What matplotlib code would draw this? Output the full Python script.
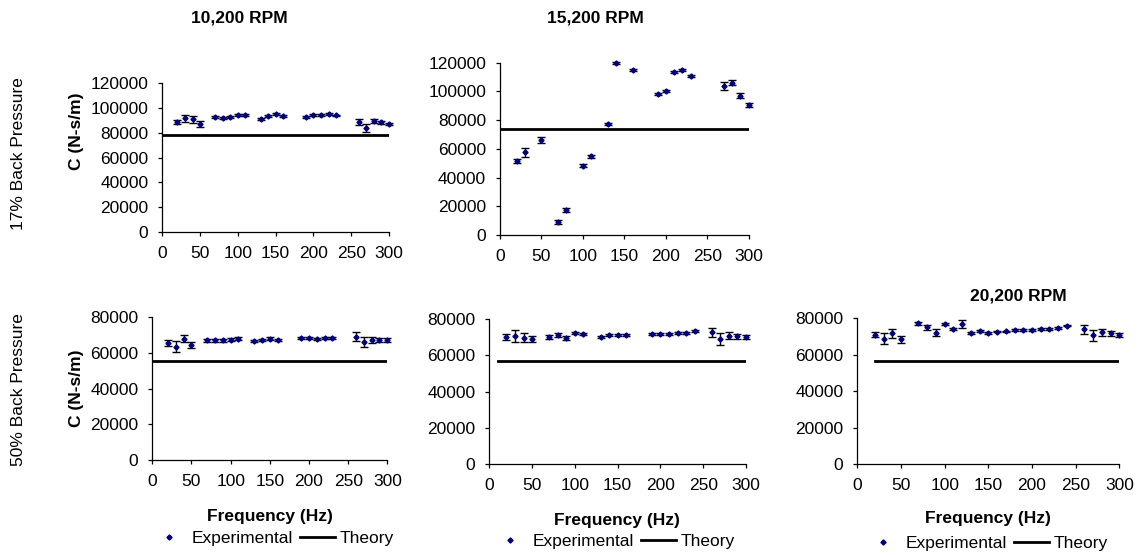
import matplotlib
matplotlib.use("Agg")
import matplotlib.pyplot as plt

plt.rcParams['font.family'] = ['Liberation Sans', 'DejaVu Sans']
FS = 12.5

# ---- data ----
freq_a = [20, 30, 40, 50, 70, 80, 90, 100, 110, 130, 140, 150, 160,
          190, 200, 210, 220, 230, 260, 270, 280, 290, 300]
c_1017 = [88900, 91600, 90800, 87000, 92700, 91600, 92700, 94300, 94300,
          91400, 93500, 95400, 93800, 93000, 94300, 94300, 95100, 94000,
          88400, 84000, 89700, 88600, 87000]
e_1017 = [1500, 3000, 2500, 2200, 800, 800, 800, 800, 800, 700, 700, 700, 700,
          700, 700, 700, 700, 700, 2400, 3000, 1700, 1300, 900]
th_1017 = 78200

freq_b = [20, 30, 50, 70, 80, 100, 110, 130, 140, 160, 190, 200, 210, 220,
          230, 270, 280, 290, 300]
c_1517 = [51320, 57590, 65950, 8840, 17410, 48270, 54780, 77520, 119780,
          114910, 97970, 100060, 113720, 114910, 110530, 103540, 106080,
          97030, 90530]
e_1517 = [1400, 3000, 2100, 1400, 1400, 1000, 1000, 800, 700, 700, 700, 700,
          800, 800, 800, 2900, 1900, 1600, 1200]
th_1517 = 74000

c_1050 = [65760, 63520, 68000, 64470, 67100, 67100, 67100, 67440, 68000,
          66880, 67270, 68000, 67270, 68220, 68220, 68000, 68220, 68220,
          69120, 66150, 67270, 67440, 67270]
e_1050 = [1600, 3000, 2000, 1700, 1000, 1000, 1000, 900, 700, 600, 600, 700,
          600, 600, 600, 600, 600, 600, 2400, 3000, 1500, 1200, 1000]
th_1050 = 55500

freq_c = [20, 30, 40, 50, 70, 80, 90, 100, 110, 130, 140, 150, 160,
          190, 200, 210, 220, 230, 240, 260, 270, 280, 290, 300]
c_1550 = [70230, 70780, 69840, 69120, 70230, 71170, 69680, 72610, 71720,
          70230, 71170, 71500, 71170, 72060, 72060, 72060, 72440, 72250,
          73550, 72830, 69120, 70950, 70620, 70060]
e_1550 = [1500, 3100, 2500, 1900, 1000, 1000, 1000, 600, 500, 500, 500, 500,
          500, 500, 500, 500, 500, 500, 300, 2400, 3100, 1800, 1300, 1000]
th_1550 = 57000

freq_d = [20, 30, 40, 50, 70, 80, 90, 100, 110, 120, 130, 140, 150, 160,
          170, 180, 190, 200, 210, 220, 230, 240, 260, 270, 280, 290, 300]
c_2050 = [70990, 68790, 71750, 68460, 77240, 75050, 72080, 76860, 74110,
          76860, 71750, 73020, 72080, 72630, 72850, 73570, 73730, 73730,
          74110, 74110, 74500, 75930, 73950, 70660, 72300, 71750, 70990]
e_2050 = [1500, 3000, 2500, 2000, 1000, 1500, 1800, 800, 600, 2300, 500, 500,
          500, 400, 200, 500, 500, 500, 500, 500, 500, 400, 2500, 3000, 1800,
          1200, 1000]
th_2050 = 56550

W, H = 1138, 555
fig = plt.figure(figsize=(W / 100, H / 100), dpi=100)

NAVY = '#000080'


def px_axes(x0, x1, ytop, ybot):
    return fig.add_axes([x0 / W, (H - ybot) / H, (x1 - x0) / W, (ybot - ytop) / H])


def panel(ax, fx, cy, ey, th, th_range, ymax):
    eb = ax.errorbar(fx, cy, yerr=ey, fmt='none', ecolor='black', elinewidth=1.0,
                     capsize=2.6, capthick=1.0, zorder=2)
    for art in eb.lines[1] + eb.lines[2]:
        art.set_clip_on(False)
    ax.plot(fx, cy, linestyle='none', marker='D', markersize=2.6,
            color=NAVY, label='Experimental', zorder=3, clip_on=False)
    ax.plot(th_range, [th, th], color='black', lw=2.0, label='Theory', zorder=1)
    ax.set_xlim(0, 300)
    ax.set_ylim(0, ymax)
    ax.set_xticks(range(0, 301, 50))
    ax.set_yticks(range(0, ymax + 1, 20000))
    for s in ('top', 'right'):
        ax.spines[s].set_visible(False)
    for s in ('left', 'bottom'):
        ax.spines[s].set_linewidth(0.9)
        ax.spines[s].set_color('black')
    ax.tick_params(direction='out', length=3, width=0.9, labelsize=FS, pad=7)
    ax.patch.set_alpha(0)


ax1 = px_axes(162.3, 389, 83.3, 231.7)
panel(ax1, freq_a, c_1017, e_1017, th_1017, [0, 300], 120000)
ax2 = px_axes(500, 748.7, 62.7, 235)
panel(ax2, freq_b, c_1517, e_1517, th_1517, [0, 300], 120000)
ax3 = px_axes(152.3, 387.3, 317.3, 460)
panel(ax3, freq_a, c_1050, e_1050, th_1050, [0, 300], 80000)
ax4 = px_axes(489.3, 746, 319.3, 464)
panel(ax4, freq_c, c_1550, e_1550, th_1550, [10, 300], 80000)
ax5 = px_axes(857.3, 1119.3, 318.3, 464)
panel(ax5, freq_d, c_2050, e_2050, th_2050, [20, 300], 80000)


def ftext(x, y, s, **kw):
    fig.text(x / W, 1 - y / H, s, ha='center', va='center', fontsize=FS, **kw)


ftext(239, 18, '10,200 RPM', fontweight='bold')
ftext(595, 18, '15,200 RPM', fontweight='bold')
ftext(1018, 296, '20,200 RPM', fontweight='bold')

ftext(76, 131, 'C (N-s/m)', fontweight='bold', rotation=90)
ftext(76, 388, 'C (N-s/m)', fontweight='bold', rotation=90)
ftext(19, 154, '17% Back Pressure', rotation=90)
ftext(19, 390, '50% Back Pressure', rotation=90)

ftext(270, 516, 'Frequency (Hz)', fontweight='bold')
ftext(617, 520, 'Frequency (Hz)', fontweight='bold')
ftext(988, 519, 'Frequency (Hz)', fontweight='bold')

for ax, (cx, cy) in zip([ax3, ax4, ax5], [(273, 538), (614, 541), (987, 543)]):
    h, l = ax.get_legend_handles_labels()
    fig.legend(h, l, loc='center', bbox_to_anchor=(cx / W, 1 - cy / H),
               ncol=2, frameon=False, fontsize=FS, handlelength=2.0,
               handletextpad=0.3, columnspacing=0.4, borderpad=0,
               markerscale=1.0)

fig.savefig('out.png', dpi=100)
